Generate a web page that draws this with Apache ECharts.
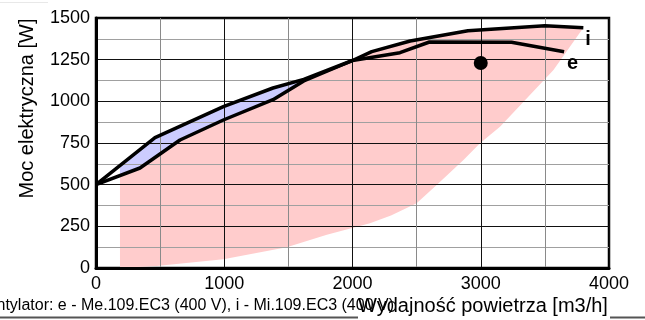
<!DOCTYPE html>
<html>
<head>
<meta charset="utf-8">
<script src="https://cdn.jsdelivr.net/npm/echarts@6/dist/echarts.min.js"></script>
<style>
html,body{margin:0;padding:0;background:#fff;}
#chart{width:645px;height:320px;}
</style>
</head>
<body>
<div id="chart"></div>
<script>
// Fan curves (air flow m3/h, electric power W)
const curveE = [[0,500],[460,782],[993,968],[1380,1080],[1620,1132],[2000,1245],[2370,1292],[2600,1356],[3240,1354],[3650,1298]];
const curveI = [[0,500],[343,600],[655,768],[993,888],[1380,1010],[1620,1122],[2000,1245],[2150,1298],[2450,1362],[2900,1424],[3500,1454],[3800,1442]];
// Working range (pink) – upper edge follows curve i, lower/right edge below
const rangeStart = [[187,0],[187,558]];
const rangeEdge = [[3800,1442],[3567,1188],[3150,848],[2994,748],[2865,648],[2656,498],[2500,388],[2300,315],[2136,268],[1800,200],[1487,124],[993,52],[473,12],[187,0]];
// Band between curves (blue)
const bandUpper = [[187,618],[460,782],[993,968],[1380,1080],[1620,1132],[2000,1245]];
const bandLower = [[1620,1122],[1380,1010],[993,888],[655,768],[343,600],[187,558]];
// Working point
const workPoint = [[3000,1230]];
const xTicks = [0,1000,2000,3000,4000];
const yTicks = [0,250,500,750,1000,1250,1500];

const FONT = '"Liberation Sans", Arial, sans-serif';
const rangePoly = rangeStart.concat(curveI.filter(p => p[0] > 187)).concat(rangeEdge);
const bandPoly = bandUpper.concat(bandLower);

function polySeries(pts, color) {
  return {
    type: 'custom',
    coordinateSystem: 'cartesian2d',
    z: 2,
    silent: true,
    clip: true,
    data: pts,
    encode: {x: 0, y: 1},
    renderItem: function (params, api) {
      if (params.dataIndex !== 0) return null;
      const points = pts.map(p => api.coord(p));
      return {type: 'polygon', shape: {points: points}, style: {fill: color, stroke: null}};
    }
  };
}

const chart = echarts.init(document.getElementById('chart'), null, {renderer: 'canvas'});
chart.setOption({
  animation: false,
  backgroundColor: '#fff',
  grid: {left: 96, right: 36, top: 18, bottom: 52, show: true, borderColor: '#000', borderWidth: 2.5, backgroundColor: 'transparent'},
  xAxis: {
    type: 'value', min: xTicks[0], max: xTicks[xTicks.length-1], interval: 1000, z: 3,
    axisLine: {show: true, onZero: false, lineStyle: {color: '#000', width: 3}},
    axisTick: {show: false},
    axisLabel: {color: '#000', fontSize: 18, fontFamily: FONT, margin: 7, formatter: v => String(v)},
    splitLine: {show: true, lineStyle: {color: '#111', width: 1}},
    minorTick: {show: false, splitNumber: 2},
    minorSplitLine: {show: true, lineStyle: {color: '#8a8a8a', width: 1}}
  },
  yAxis: {
    type: 'value', min: yTicks[0], max: yTicks[yTicks.length-1], interval: 250, z: 3,
    axisLine: {show: true, onZero: false, lineStyle: {color: '#000', width: 3}},
    axisTick: {show: false},
    axisLabel: {color: '#000', fontSize: 18, fontFamily: FONT, margin: 6, formatter: v => String(v)},
    splitLine: {show: true, lineStyle: {color: '#111', width: 1}},
    minorTick: {show: false, splitNumber: 2},
    minorSplitLine: {show: true, lineStyle: {color: '#a0a0a0', width: 1}}
  },
  series: [
    polySeries(rangePoly, 'rgb(255,204,204)'),
    polySeries(bandPoly, 'rgb(204,204,255)'),
    {
      type: 'line', name: 'e', data: curveE, z: 5, symbol: 'none', silent: true,
      lineStyle: {color: '#000', width: 3.5},
      endLabel: {show: true, formatter: 'e', distance: 0, offset: [3, 12], color: '#000', fontSize: 20, fontWeight: 'bold', fontFamily: FONT}
    },
    {
      type: 'line', name: 'i', data: curveI, z: 5, symbol: 'none', silent: true,
      lineStyle: {color: '#000', width: 3.5},
      endLabel: {show: true, formatter: 'i', distance: 0, offset: [2, 12], color: '#000', fontSize: 20, fontWeight: 'bold', fontFamily: FONT}
    },
    {
      type: 'scatter', data: workPoint, z: 6, symbol: 'circle', symbolSize: 14, silent: true,
      itemStyle: {color: '#000', opacity: 1}
    }
  ],
  graphic: [
    {type: 'line', z: 1, shape: {x1: 0, y1: 2.5, x2: 48, y2: 2.5}, style: {stroke: '#e8e8e8', lineWidth: 1}},
    {type: 'text', z: 10, x: 27, y: 108.5, rotation: Math.PI / 2,
      style: {text: 'Moc elektryczna [W]', font: '20px ' + FONT, fill: '#000', align: 'center', verticalAlign: 'middle'}},
    {type: 'line', z: 1, shape: {x1: 0, y1: 317.5, x2: 358, y2: 317.5}, style: {stroke: '#555', lineWidth: 2}},
    {type: 'line', z: 1, shape: {x1: 610, y1: 317.5, x2: 645, y2: 317.5}, style: {stroke: '#555', lineWidth: 2}},
    {type: 'text', z: 10, x: 394, y: 306,
      style: {text: 'Wentylator: e - Me.109.EC3 (400 V), i - Mi.109.EC3 (400 V)', font: '16px ' + FONT, fill: '#000', align: 'right', verticalAlign: 'middle'}},
    {type: 'text', z: 11, x: 358, y: 306,
      style: {text: 'Wydajność powietrza [m3/h]', font: '20px ' + FONT, fill: '#000', align: 'left', verticalAlign: 'middle'}}
  ]
});
</script>
</body>
</html>
